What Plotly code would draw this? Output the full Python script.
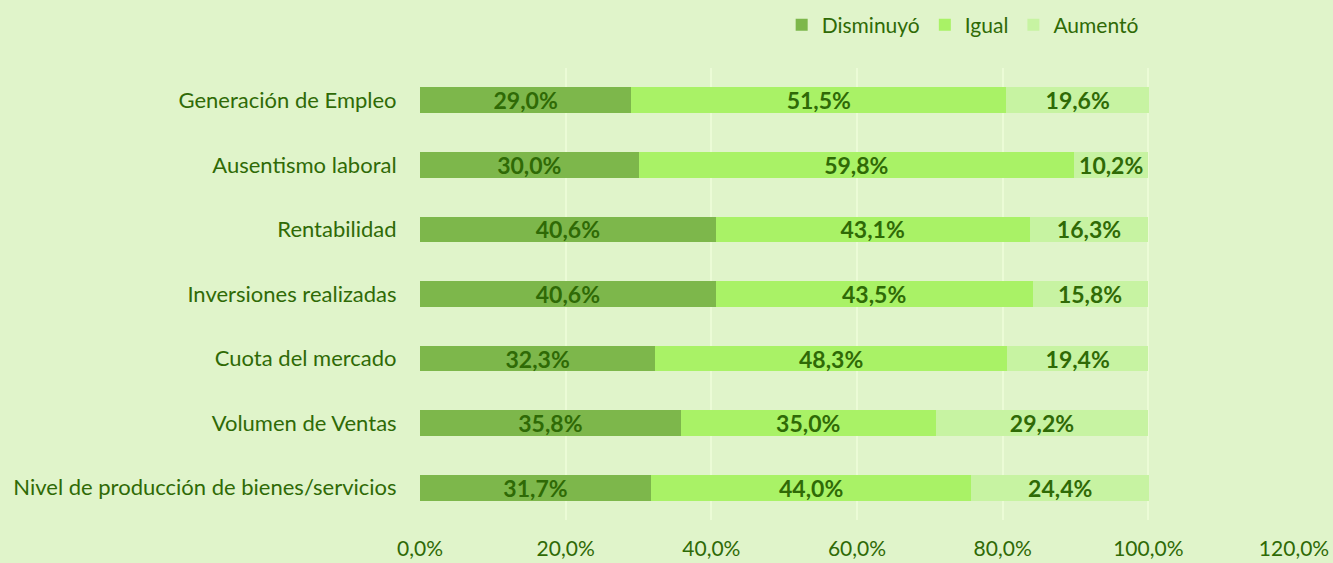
import plotly.graph_objects as go

categories = ["Nivel de producción de bienes/servicios", "Volumen de Ventas", "Cuota del mercado",
              "Inversiones realizadas", "Rentabilidad", "Ausentismo laboral", "Generación de Empleo"]
disminuyo = [31.7, 35.8, 32.3, 40.6, 40.6, 30.0, 29.0]
igual = [44.0, 35.0, 48.3, 43.5, 43.1, 59.8, 51.5]
aumento = [24.4, 29.2, 19.4, 15.8, 16.3, 10.2, 19.6]
series_names = ["Disminuyó", "Igual", "Aumentó"]
tick_vals = [0, 20, 40, 60, 80, 100, 120]
tick_text = ["0,0%", "20,0%", "40,0%", "60,0%", "80,0%", "100,0%", "120,0%"]

colors = ["#7DB74B", "#A9F266", "#C7F3A2"]
text_color = "#2F6A06"
font_family = "Lato, 'Open Sans', sans-serif"

fig = go.Figure()
for name, vals, col in zip(series_names, [disminuyo, igual, aumento], colors):
    fig.add_trace(go.Bar(
        y=categories, x=vals, name=name, orientation="h",
        marker=dict(color=col, line=dict(width=0)),
        text=[f"{v:.1f}%".replace(".", ",") for v in vals],
        textposition="inside", insidetextanchor="middle",
        textfont=dict(family=font_family, size=23, color=text_color, weight="bold"),
        constraintext="none",
    ))

fig.update_layout(
    barmode="stack", bargap=0.6,
    width=1333, height=563,
    paper_bgcolor="#E0F4CA", plot_bgcolor="#E0F4CA",
    margin=dict(l=420, r=39, t=68, b=43, autoexpand=False),
    font=dict(family=font_family, size=22, color=text_color),
    legend=dict(orientation="h", x=0.828, xanchor="right", y=1.095, yanchor="middle",
                font=dict(size=21, color=text_color), traceorder="normal",
                itemwidth=30, bgcolor="rgba(0,0,0,0)"),
    uniformtext=dict(mode=False),
)
fig.update_xaxes(range=[0, 120], tickvals=tick_vals, ticktext=tick_text, automargin=False,
                 showgrid=True, gridcolor="#EBFBD6", gridwidth=2, zeroline=False,
                 ticks="outside", ticklen=10, tickcolor="rgba(0,0,0,0)",
                 tickfont=dict(size=21, color=text_color), showline=False)
fig.update_yaxes(showgrid=False, ticks="outside", ticklen=18, tickcolor="rgba(0,0,0,0)",
                 automargin=False,
                 tickfont=dict(size=22, color=text_color), showline=False)

fig.write_html("out.html", config={"displayModeBar": False},
               post_script="document.body.style.margin='0';")
